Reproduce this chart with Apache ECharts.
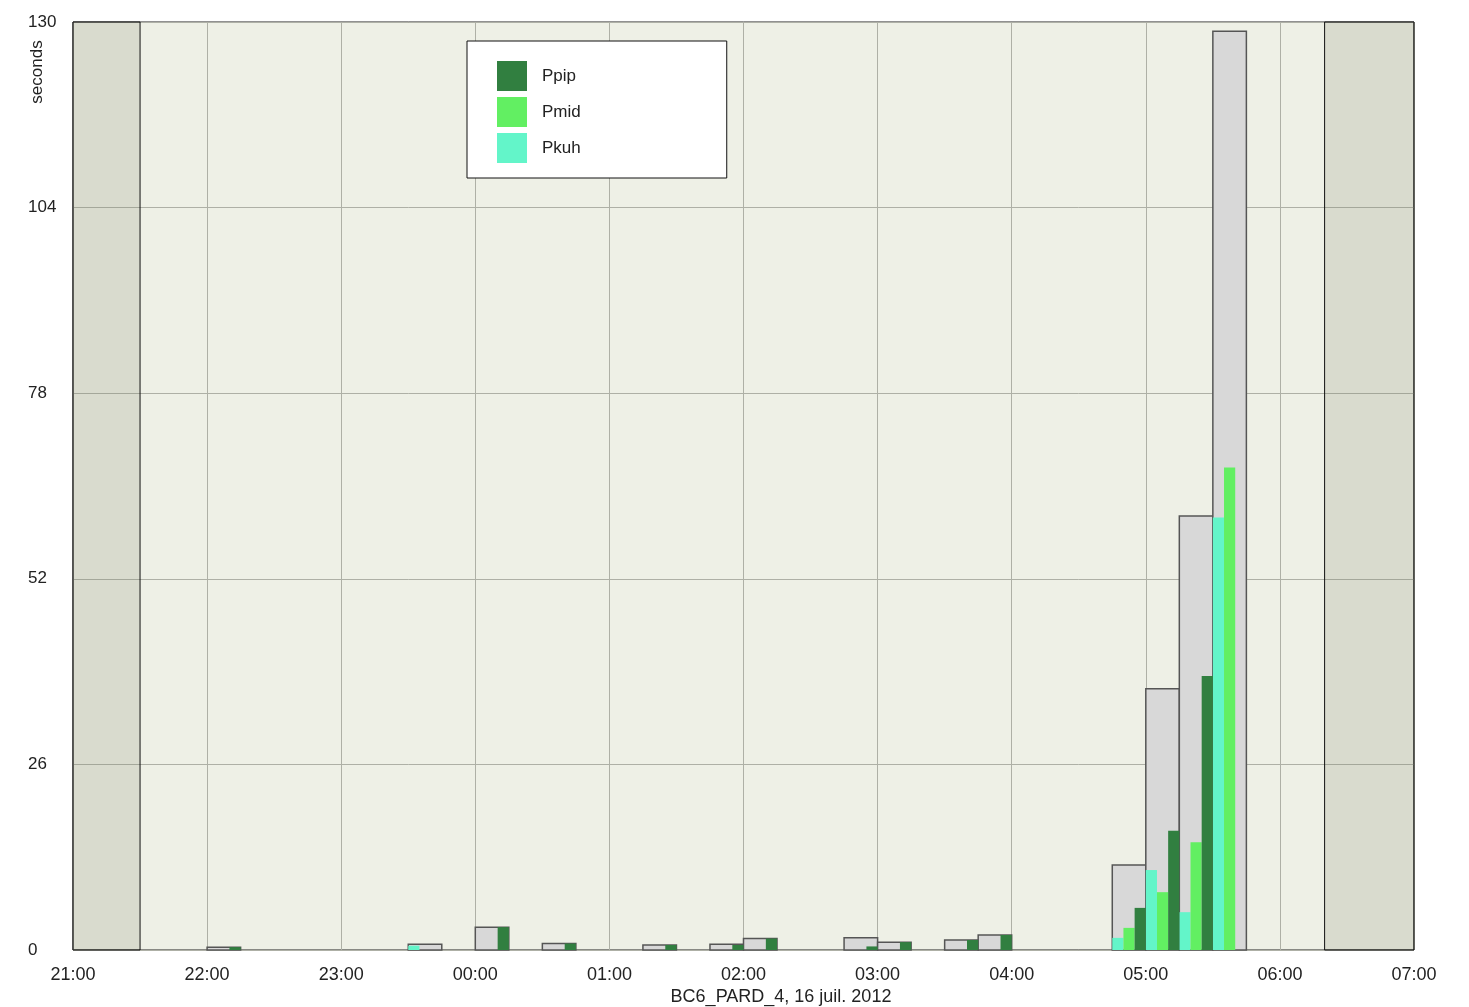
<!DOCTYPE html>
<html><head><meta charset="utf-8">
<script src="https://cdn.jsdelivr.net/npm/echarts@6/dist/echarts.min.js"></script>
<style>html,body{margin:0;padding:0;background:#fff}#c{width:1469px;height:1007px}</style>
</head><body><div id="c"></div>
<script>
// 15-minute bins (start times)
const binStarts = ['22:00','23:30','00:00','00:30','01:15','01:45','02:00','02:45','03:00','03:30','03:45','04:45','05:00','05:15','05:30'];
const total = [0.4, 0.8, 3.2, 0.9, 0.7, 0.8, 1.6, 1.7, 1.1, 1.4, 2.1, 11.9, 36.6, 60.8, 128.7];
const ppip  = [0.4, 0,   3.2, 0.9, 0.7, 0.7, 1.6, 0.5, 1.1, 1.4, 2.1, 5.9, 16.7, 38.4, 0];
const pmid  = [0,   0,   0,   0,   0,   0,   0,   0,   0,   0,   0,   3.1, 8.1, 15.1, 67.6];
const pkuh  = [0,   0.6, 0,   0,   0,   0,   0,   0,   0,   0,   0,   1.7, 11.2, 5.3, 60.6];
const xTicks = ['21:00','22:00','23:00','00:00','01:00','02:00','03:00','04:00','05:00','06:00','07:00'];
const yTicks = [0, 26, 52, 78, 104, 130];
const shaded = [['21:00','21:30'], ['06:20','07:00']];
const binMinutes = 15;

function toH(t){ const [H,M]=t.split(':').map(Number); let h=H+M/60; if(H<21) h+=24; return h-21; }
const bw = binMinutes/60;
function barData(vals, part){ // part: -1 full bin, 0..2 thirds
  return binStarts.map((t,i)=>{
    const s=toH(t);
    if(part<0) return [s, s+bw, vals[i]];
    return [s+part*bw/3, s+(part+1)*bw/3, vals[i]];
  });
}
function render(style){
  return function(params, api){
    const v=api.value(2); if(!v) return null;
    const p0=api.coord([api.value(0), v]); const p1=api.coord([api.value(1), 0]);
    return {type:'rect', shape:{x:p0[0], y:p0[1], width:p1[0]-p0[0], height:p1[1]-p0[1]}, style: Object.assign({}, style)};
  };
}
const font = "'Liberation Sans', Arial, Helvetica, sans-serif";
const C_PPIP='#317f40', C_PMID='#62ef62', C_PKUH='#63f5c9';
const chart = echarts.init(document.getElementById('c'));
chart.setOption({
  animation:false,
  textStyle:{fontFamily:font},
  grid:{left:73, right:55, top:22, bottom:57, show:true, backgroundColor:'#eef0e6', borderColor:'#222', borderWidth:1},
  xAxis:{type:'value', min:0, max:10, interval:1,
    axisLine:{show:false}, axisTick:{show:false},
    splitLine:{show:true, lineStyle:{color:'#aeb0a6', width:1}},
    axisLabel:{margin:16, fontSize:18, color:'#222', fontFamily:font, formatter:(v)=>xTicks[Math.round(v)]}},
  yAxis:{type:'value', min:yTicks[0], max:yTicks[yTicks.length-1], interval:26,
    axisLine:{show:false}, axisTick:{show:false},
    splitLine:{show:true, lineStyle:{color:'#aeb0a6', width:1}},
    axisLabel:{align:'left', margin:45, fontSize:17, color:'#222', fontFamily:font}},
  legend:{orient:'vertical', left:467, top:41, data:['Ppip','Pmid','Pkuh'],
    icon:'rect', itemWidth:30, itemHeight:30, itemGap:6,
    padding:[20,146,15,30], backgroundColor:'#fff', borderColor:'#111', borderWidth:1,
    textStyle:{fontSize:17, color:'#222', fontFamily:font, padding:[0,0,0,10]}},
  graphic:[
    {type:'text', rotation:Math.PI/2, style:{text:'seconds', font:"17px "+font, fill:'#222', align:'center', verticalAlign:'middle'}, x:37, y:72},
    {type:'text', style:{text:'BC6_PARD_4, 16 juil. 2012', font:"18px "+font, fill:'#222', align:'center', verticalAlign:'middle'}, x:781, y:997}
  ],
  series:[
    {type:'custom', name:'total', data:barData(total,-1), renderItem:render({fill:'#d8d8d8', stroke:'#555', lineWidth:1.5}),
      encode:{x:[0,1], y:2}, itemStyle:{color:'#d8d8d8'}, z:2,
      markArea:{silent:true, itemStyle:{color:'rgba(120,125,100,0.18)', borderColor:'#111', borderWidth:1},
        data: shaded.map(s=>[{xAxis:toH(s[0])},{xAxis:toH(s[1])}])}},
    {type:'custom', name:'Pkuh', data:barData(pkuh,0), renderItem:render({fill:C_PKUH}), encode:{x:[0,1], y:2}, itemStyle:{color:C_PKUH}, z:3},
    {type:'custom', name:'Pmid', data:barData(pmid,1), renderItem:render({fill:C_PMID}), encode:{x:[0,1], y:2}, itemStyle:{color:C_PMID}, z:3},
    {type:'custom', name:'Ppip', data:barData(ppip,2), renderItem:render({fill:C_PPIP}), encode:{x:[0,1], y:2}, itemStyle:{color:C_PPIP}, z:3}
  ]
});
</script></body></html>
